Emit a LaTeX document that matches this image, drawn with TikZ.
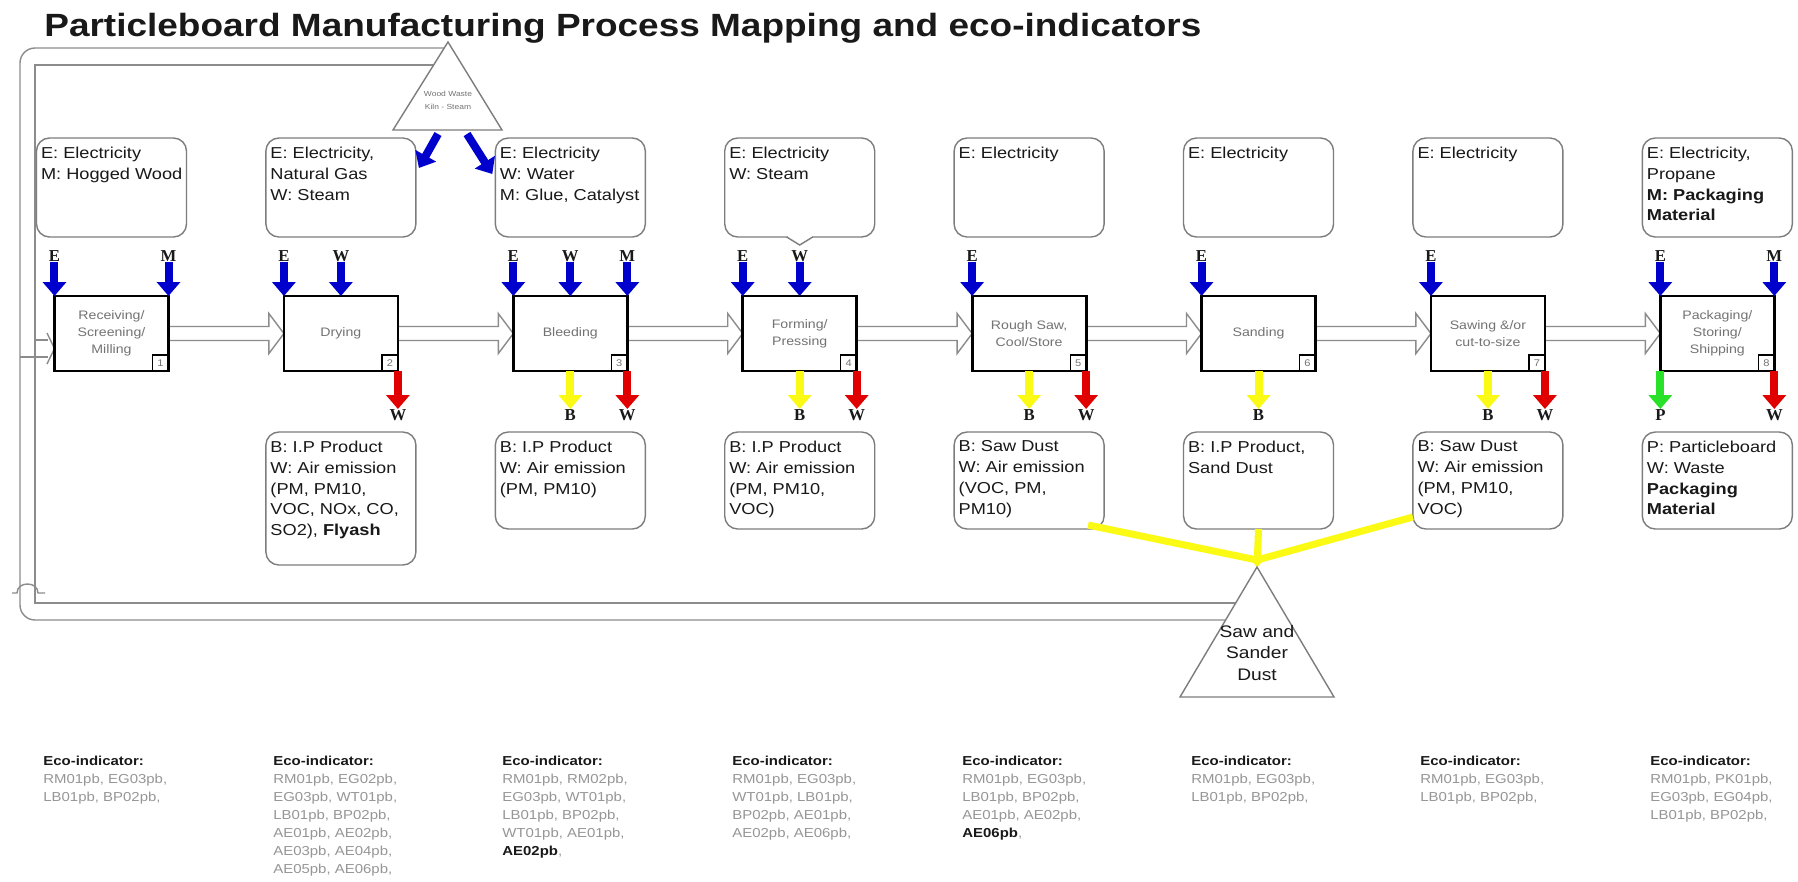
\documentclass[tikz,border=0pt]{standalone}
\usepackage{fontspec}
\setmainfont{Liberation Sans}[FakeStretch=1.15]
\newfontfamily\lblserif{Liberation Serif}
\usepackage{xcolor}
\usetikzlibrary{calc,positioning,arrows.meta,backgrounds}

\definecolor{txtdark}{RGB}{25,25,25}
\definecolor{procgray}{RGB}{115,115,115}
\definecolor{boxgray}{RGB}{125,125,125}
\definecolor{linegray}{RGB}{140,140,140}
\definecolor{ecogray}{RGB}{150,150,150}
\definecolor{flowblue}{RGB}{0,0,205}
\definecolor{flowred}{RGB}{225,0,0}
\definecolor{flowyel}{RGB}{250,250,20}
\definecolor{flowgreen}{RGB}{40,225,40}

\newcommand{\ecohead}{\textcolor{txtdark}{\textbf{Eco-indicator:}}}

\tikzset{
  heading/.style={anchor=base west,inner sep=0pt,text=txtdark,font=\bfseries\fontsize{18.3}{18.3}\selectfont},
  proc/.style={draw=black,line width=1.6pt,outer sep=0pt,minimum width=22.8mm,minimum height=15mm,inner sep=1pt,align=center,text=procgray,font=\fontsize{7}{9.6}\selectfont},
  numbox/.style={draw=black,line width=0.7pt,anchor=south east,outer sep=0pt,minimum size=3.2mm,inner sep=0pt,text=procgray,font=\fontsize{5.5}{5.5}\selectfont},
  inbox/.style={draw=boxgray,line width=0.8pt,rounded corners=2.6mm,outer sep=0pt,minimum width=30mm,minimum height=19.8mm,inner sep=0pt},
  outbox/.style={inbox,minimum height=19.4mm},
  boxtxt/.style={anchor=north west,align=left,inner xsep=2.4pt,inner ysep=4.8pt,text=txtdark,font=\fontsize{9}{11.9}\selectfont},
  lbl/.style={inner sep=0pt,text=txtdark,font=\lblserif\bfseries\fontsize{9.5}{9.5}\selectfont},
  thickflow/.style={line width=1.6mm,-{Triangle[length=2.8mm,width=4.6mm]}},
  inflow/.style={thickflow,draw=flowblue},
  wasteflow/.style={thickflow,draw=flowred},
  byflow/.style={thickflow,draw=flowyel},
  prodflow/.style={thickflow,draw=flowgreen},
  yelline/.style={draw=flowyel,line width=1.4mm},
  stepflow/.style={draw=linegray,line width=0.8pt,fill=white,
    to path={let \p1=(\tikztostart),\p2=(\tikztotarget) in
      (\x1,\y1+1.4mm) -- (\x2-3mm,\y1+1.4mm) -- (\x2-3mm,\y1+4mm) -- (\x2,\y1)
      -- (\x2-3mm,\y1-4mm) -- (\x2-3mm,\y1-1.4mm) -- (\x1,\y1-1.4mm)}},
  loopline/.style={draw=linegray,line width=0.8pt},
  tri/.style={draw=boxgray,line width=0.8pt,fill=white},
  eco/.style={anchor=north west,align=left,inner sep=0pt,text=ecogray,font=\fontsize{7.4}{10.2}\selectfont},
}

\begin{document}
\begin{tikzpicture}[x=0.2mm,y=-0.2mm]
\useasboundingbox (0,0) rectangle (1798,881);

\node[heading] (ttl) at (44,36) {Particleboard Manufacturing Process Mapping and eco-indicators};

%process steps
\node[proc] (p1) at (111.5,333.5) {Receiving/\\Screening/\\Milling};
\node[proc,right=23.08mm of p1] (p2) {Drying};
\node[proc,right=23.08mm of p2] (p3) {Bleeding};
\node[proc,right=23.08mm of p3] (p4) {Forming/\\Pressing};
\node[proc,right=23.08mm of p4] (p5) {Rough Saw,\\Cool/Store};
\node[proc,right=23.08mm of p5] (p6) {Sanding};
\node[proc,right=23.08mm of p6] (p7) {Sawing \&/or\\cut-to-size};
\node[proc,right=23.08mm of p7] (p8) {Packaging/\\Storing/\\Shipping};

\node[numbox] (n1) at (p1.south east) {1};
\node[numbox] (n2) at (p2.south east) {2};
\node[numbox] (n3) at (p3.south east) {3};
\node[numbox] (n4) at (p4.south east) {4};
\node[numbox] (n5) at (p5.south east) {5};
\node[numbox] (n6) at (p6.south east) {6};
\node[numbox] (n7) at (p7.south east) {7};
\node[numbox] (n8) at (p8.south east) {8};

%inputs
\node[inbox,above=11.8mm of p1] (in1) {};
\node[inbox,above=11.8mm of p2] (in2) {};
\node[inbox,above=11.8mm of p3] (in3) {};
\node[inbox,above=11.8mm of p4] (in4) {};
\node[inbox,above=11.8mm of p5] (in5) {};
\node[inbox,above=11.8mm of p6] (in6) {};
\node[inbox,above=11.8mm of p7] (in7) {};
\node[inbox,above=11.8mm of p8] (in8) {};
\fill[white] ($(in4.south)+(-12,-2)$) rectangle ($(in4.south)+(12,2)$);
\draw[boxgray,line width=0.8pt] ($(in4.south)+(-13,0)$) -- ($(in4.south)+(0,8)$) -- ($(in4.south)+(13,0)$);

\node[boxtxt] (in1t) at (in1.north west) {E: Electricity\\M: Hogged Wood};
\node[boxtxt] (in2t) at (in2.north west) {E: Electricity,\\Natural Gas\\W: Steam};
\node[boxtxt] (in3t) at (in3.north west) {E: Electricity\\W: Water\\M: Glue, Catalyst};
\node[boxtxt] (in4t) at (in4.north west) {E: Electricity\\W: Steam};
\node[boxtxt] (in5t) at (in5.north west) {E: Electricity};
\node[boxtxt] (in6t) at (in6.north west) {E: Electricity};
\node[boxtxt] (in7t) at (in7.north west) {E: Electricity};
\node[boxtxt] (in8t) at (in8.north west) {E: Electricity,\\Propane\\\textbf{M: Packaging}\\\textbf{Material}};

%outputs
\node[outbox,below=12.2mm of p2,minimum height=26.6mm] (out2) {};
\node[outbox,below=12.2mm of p3] (out3) {};
\node[outbox,below=12.2mm of p4] (out4) {};
\node[outbox,below=12.2mm of p5] (out5) {};
\node[outbox,below=12.2mm of p6] (out6) {};
\node[outbox,below=12.2mm of p7] (out7) {};
\node[outbox,below=12.2mm of p8] (out8) {};

\node[boxtxt] (out2t) at (out2.north west) {B: I.P Product\\W: Air emission\\(PM, PM10,\\VOC, NOx, CO,\\SO2), \textbf{Flyash}};
\node[boxtxt] (out3t) at (out3.north west) {B: I.P Product\\W: Air emission\\(PM, PM10)};
\node[boxtxt] (out4t) at (out4.north west) {B: I.P Product\\W: Air emission\\(PM, PM10,\\VOC)};
\node[boxtxt] (out5t) at (out5.north west) {B: Saw Dust\\W: Air emission\\(VOC, PM,\\PM10)};
\node[boxtxt] (out6t) at (out6.north west) {B: I.P Product,\\Sand Dust};
\node[boxtxt] (out7t) at (out7.north west) {B: Saw Dust\\W: Air emission\\(PM, PM10,\\VOC)};
\node[boxtxt] (out8t) at (out8.north west) {P: Particleboard\\W: Waste\\\textbf{Packaging}\\\textbf{Material}};

%E W M arrows in
\node[lbl,above=6.8mm of p1.north west] (e1) {E};
\node[lbl,above=6.8mm of p1.north east] (m1) {M};
\node[lbl,above=6.8mm of p2.north west] (e2) {E};
\node[lbl,above=6.8mm of p2.north] (w2) {W};
\node[lbl,above=6.8mm of p3.north west] (e3) {E};
\node[lbl,above=6.8mm of p3.north] (w3) {W};
\node[lbl,above=6.8mm of p3.north east] (m3) {M};
\node[lbl,above=6.8mm of p4.north west] (e4) {E};
\node[lbl,above=6.8mm of p4.north] (w4) {W};
\node[lbl,above=6.8mm of p5.north west] (e5) {E};
\node[lbl,above=6.8mm of p6.north west] (e6) {E};
\node[lbl,above=6.8mm of p7.north west] (e7) {E};
\node[lbl,above=6.8mm of p8.north west] (e8) {E};
\node[lbl,above=6.8mm of p8.north east] (m8) {M};

\draw[inflow] (e1.south) -- (p1.north west);
\draw[inflow] (m1.south) -- (p1.north east);
\draw[inflow] (e2.south) -- (p2.north west);
\draw[inflow] (w2.south) -- (p2.north);
\draw[inflow] (e3.south) -- (p3.north west);
\draw[inflow] (w3.south) -- (p3.north);
\draw[inflow] (m3.south) -- (p3.north east);
\draw[inflow] (e4.south) -- (p4.north west);
\draw[inflow] (w4.south) -- (p4.north);
\draw[inflow] (e5.south) -- (p5.north west);
\draw[inflow] (e6.south) -- (p6.north west);
\draw[inflow] (e7.south) -- (p7.north west);
\draw[inflow] (e8.south) -- (p8.north west);
\draw[inflow] (m8.south) -- (p8.north east);

%B W P arrows out
\node[lbl,below=7.6mm of p2.south east] (ow2) {W};
\node[lbl,below=7.6mm of p3.south] (ob3) {B};
\node[lbl,below=7.6mm of p3.south east] (ow3) {W};
\node[lbl,below=7.6mm of p4.south] (ob4) {B};
\node[lbl,below=7.6mm of p4.south east] (ow4) {W};
\node[lbl,below=7.6mm of p5.south] (ob5) {B};
\node[lbl,below=7.6mm of p5.south east] (ow5) {W};
\node[lbl,below=7.6mm of p6.south] (ob6) {B};
\node[lbl,below=7.6mm of p7.south] (ob7) {B};
\node[lbl,below=7.6mm of p7.south east] (ow7) {W};
\node[lbl,below=7.6mm of p8.south west] (op8) {P};
\node[lbl,below=7.6mm of p8.south east] (ow8) {W};

\draw[wasteflow] (p2.south east) -- (ow2.north);
\draw[byflow] (p3.south) -- (ob3.north);
\draw[wasteflow] (p3.south east) -- (ow3.north);
\draw[byflow] (p4.south) -- (ob4.north);
\draw[wasteflow] (p4.south east) -- (ow4.north);
\draw[byflow] (p5.south) -- (ob5.north);
\draw[wasteflow] (p5.south east) -- (ow5.north);
\draw[byflow] (p6.south) -- (ob6.north);
\draw[byflow] (p7.south) -- (ob7.north);
\draw[wasteflow] (p7.south east) -- (ow7.north);
\draw[prodflow] (p8.south west) -- (op8.north);
\draw[wasteflow] (p8.south east) -- (ow8.north);

%wood waste
\coordinate (wwtop) at (448,42);
\draw[tri] (wwtop) -- (393,130) -- (502,130) -- cycle;
\node[align=center,text=procgray,font=\fontsize{4.2}{7.5}\selectfont] (wwtxt) at (448,100) {Wood Waste\\Kiln - Steam};
\coordinate (wwl) at (438,134);
\coordinate (wwr) at (467,134);
\draw[inflow] (wwl) -- ($(in2.north east)+(3,30)$);
\draw[inflow] (wwr) -- ($(in3.north west)+(-3,36)$);

%saw dust
\coordinate (sdtop) at (1257,567);
\coordinate (sdj) at (1257,560);
\draw[yelline] ($(out5.south east)+(-16,-4)$) -- (sdj);
\draw[yelline] ($(out7.south west)+(0,-12)$) -- (sdj);
\draw[yelline,-{Triangle[length=2mm,width=3.6mm]}] (out6.south) -- (sdtop);
\draw[tri] (sdtop) -- (1180,697) -- (1334,697) -- cycle;
\node[align=center,text=txtdark,font=\fontsize{9.5}{12.2}\selectfont] (sdtxt) at (1257,653) {Saw and\\Sander\\Dust};

%eco-indicators
\node[eco] (eco1) at (43,756) {\ecohead\\RM01pb, EG03pb,\\LB01pb, BP02pb,};
\node[eco] (eco2) at (273,756) {\ecohead\\RM01pb, EG02pb,\\EG03pb, WT01pb,\\LB01pb, BP02pb,\\AE01pb, AE02pb,\\AE03pb, AE04pb,\\AE05pb, AE06pb,};
\node[eco] (eco3) at (502,756) {\ecohead\\RM01pb, RM02pb,\\EG03pb, WT01pb,\\LB01pb, BP02pb,\\WT01pb, AE01pb,\\\textcolor{txtdark}{\textbf{AE02pb}},};
\node[eco] (eco4) at (732,756) {\ecohead\\RM01pb, EG03pb,\\WT01pb, LB01pb,\\BP02pb, AE01pb,\\AE02pb, AE06pb,};
\node[eco] (eco5) at (962,756) {\ecohead\\RM01pb, EG03pb,\\LB01pb, BP02pb,\\AE01pb, AE02pb,\\\textcolor{txtdark}{\textbf{AE06pb}},};
\node[eco] (eco6) at (1191,756) {\ecohead\\RM01pb, EG03pb,\\LB01pb, BP02pb,};
\node[eco] (eco7) at (1420,756) {\ecohead\\RM01pb, EG03pb,\\LB01pb, BP02pb,};
\node[eco] (eco8) at (1650,756) {\ecohead\\RM01pb, PK01pb,\\EG03pb, EG04pb,\\LB01pb, BP02pb,};

%flow and return loop
\begin{scope}[on background layer]
  \fill[white] (0,0) rectangle (1798,881);
  \draw[stepflow] (p1.east) to (p2.west);
  \draw[stepflow] (p2.east) to (p3.west);
  \draw[stepflow] (p3.east) to (p4.west);
  \draw[stepflow] (p4.east) to (p5.west);
  \draw[stepflow] (p5.east) to (p6.west);
  \draw[stepflow] (p6.east) to (p7.west);
  \draw[stepflow] (p7.east) to (p8.west);
  \draw[loopline,rounded corners=3mm] (446,48) -- (20,48) -- (20,620) -- (1230,620);
  \draw[loopline] (436,65) -- (35,65) -- (35,603) -- (1240,603);
  \draw[loopline] (35,340) -- (48,340);
  \draw[loopline] (20,357) -- (48,357);
  \draw[loopline] (47,333) -- (p1.west |- 0,348.5) -- (47,364);
  \draw[loopline] (12,593) -- (17,593) .. controls (17,581) and (38,581) .. (38,593) -- (45,593);
\end{scope}
\end{tikzpicture}
\end{document}
